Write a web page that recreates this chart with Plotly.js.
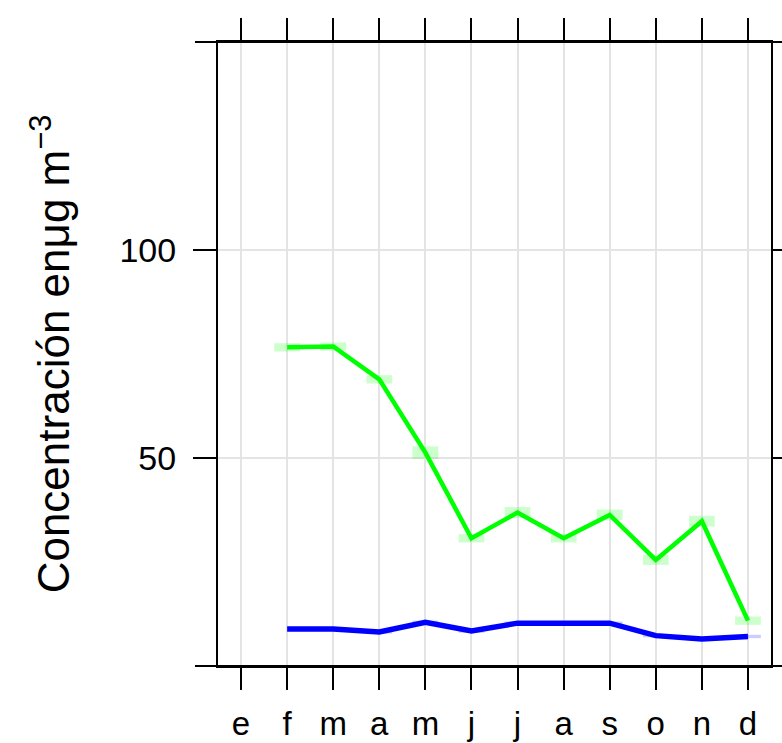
<!DOCTYPE html>
<html>
<head>
<meta charset="utf-8">
<script src="https://cdn.plot.ly/plotly-3.0.1.min.js"></script>
<style>
  html, body { margin: 0; padding: 0; background: #ffffff; }
  #chart { width: 782px; height: 743px; }
</style>
</head>
<body>
<div id="chart"></div>
<script>
// Monthly means with their confidence intervals
const monthIndex = [1, 2, 3, 4, 5, 6, 7, 8, 9, 10, 11, 12];
const monthLabels = ['e', 'f', 'm', 'a', 'm', 'j', 'j', 'a', 's', 'o', 'n', 'd'];

const greenMean  = [null, 76.6, 76.8, 68.9, 51.3, 30.7, 36.9, 30.7, 36.3, 25.5, 34.8, 10.9];
const greenLower = [null, 75.6, 75.8, 67.9, 49.8, 29.7, 35.6, 29.7, 35.0, 24.3, 33.5, 9.9];
const greenUpper = [null, 77.6, 77.8, 69.9, 52.8, 31.7, 38.2, 31.7, 37.6, 26.7, 36.1, 11.9];

const blueMean  = [null, 8.9, 8.9, 8.2, 10.5, 8.4, 10.3, 10.3, 10.3, 7.3, 6.5, 7.1];
const blueLower = [null, null, 8.5, 7.8, 10.1, 8.0, 9.9, 9.9, 9.9, 6.9, 6.1, 6.7];
const blueUpper = [null, null, 9.3, 8.6, 10.9, 8.8, 10.7, 10.7, 10.7, 7.7, 6.9, 7.5];

const yTicks = [50, 100];

function span(lo, hi) {
  return hi.map((h, i) => (h === null || lo[i] === null) ? null : h - lo[i]);
}

const font = 'Liberation Sans, Arial, sans-serif';

const traces = [
  {
    type: 'bar', x: monthIndex, base: greenLower, y: span(greenLower, greenUpper),
    width: 0.56, marker: { color: 'rgba(0,255,0,0.2)', line: { width: 0 } },
    hoverinfo: 'skip', showlegend: false
  },
  {
    type: 'bar', x: monthIndex, base: blueLower, y: span(blueLower, blueUpper),
    width: 0.56, marker: { color: 'rgba(0,0,255,0.2)', line: { width: 0 } },
    hoverinfo: 'skip', showlegend: false
  },
  {
    type: 'scatter', mode: 'lines', x: monthIndex, y: greenMean,
    line: { color: '#00ff00', width: 4.5 }, hoverinfo: 'skip', showlegend: false
  },
  {
    type: 'scatter', mode: 'lines', x: monthIndex, y: blueMean,
    line: { color: '#0000ff', width: 5.5 }, hoverinfo: 'skip', showlegend: false
  }
];

const layout = {
  width: 782, height: 743,
  margin: { l: 218, r: 11, t: 42, b: 77 },
  paper_bgcolor: '#ffffff', plot_bgcolor: '#ffffff',
  barmode: 'overlay',
  showlegend: false,
  font: { family: font, color: '#000000' },
  xaxis: {
    range: [0.5, 12.5],
    tickmode: 'array', tickvals: monthIndex, ticktext: monthLabels,
    ticks: 'outside', ticklen: 22, tickwidth: 2, tickcolor: '#000000',
    ticklabelstandoff: 5,
    tickfont: { family: font, size: 33, color: '#000000' },
    showgrid: true, gridcolor: '#e4e4e4', gridwidth: 2,
    showline: true, linecolor: '#000000', linewidth: 2, mirror: 'ticks',
    zeroline: false, fixedrange: true
  },
  yaxis: {
    range: [0, 150],
    tickmode: 'array', tickvals: yTicks,
    ticks: 'outside', ticklen: 23, tickwidth: 2, tickcolor: '#000000',
    ticklabelstandoff: 10,
    tickfont: { family: font, size: 34, color: '#000000' },
    showgrid: true, gridcolor: '#e4e4e4', gridwidth: 2,
    showline: true, linecolor: '#000000', linewidth: 2, mirror: 'ticks',
    zeroline: false, fixedrange: true,
    title: {
      text: 'Concentración enμg m<sup>−3</sup>',
      font: { family: font, size: 44, color: '#000000' },
      standoff: 36
    }
  },
  shapes: [
    { type: 'line', xref: 'paper', yref: 'paper', x0: -0.0416, x1: 1.03, y0: 1, y1: 1,
      line: { color: '#000000', width: 2 } },
    { type: 'line', xref: 'paper', yref: 'paper', x0: -0.0416, x1: 1.03, y0: 0, y1: 0,
      line: { color: '#000000', width: 2 } }
  ]
};

Plotly.newPlot('chart', traces, layout, { displayModeBar: false, staticPlot: true });
</script>
</body>
</html>
